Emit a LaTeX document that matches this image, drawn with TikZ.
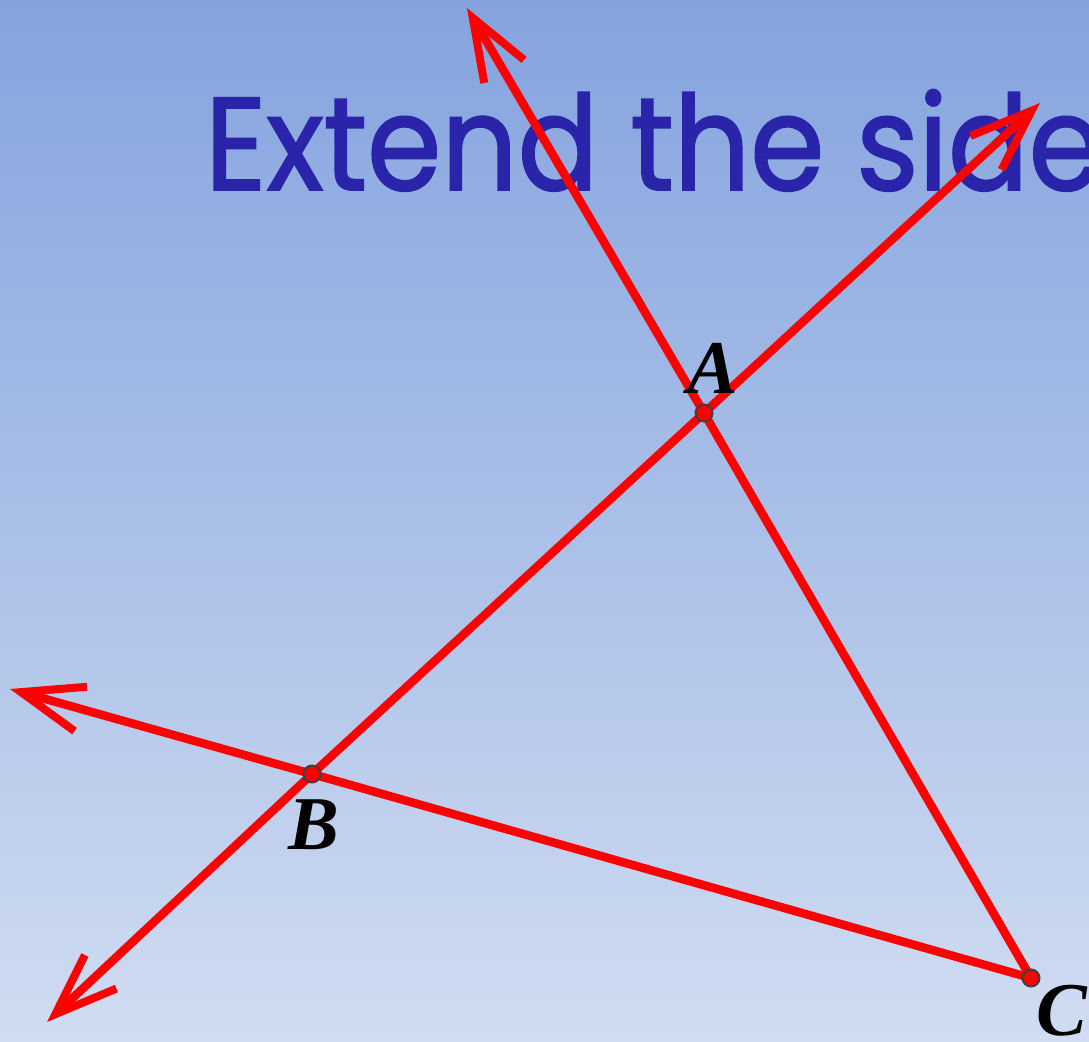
\documentclass[tikz,border=0pt]{standalone}
\usepackage{fontspec}
\usetikzlibrary{arrows.meta}
\newfontfamily\titlefont[FakeBold=1.5]{Poppins}
\newfontfamily\lblfont{Liberation Serif}
\definecolor{bgtop}{RGB}{132,163,222}
\definecolor{bgbot}{RGB}{208,220,241}
\definecolor{titleblue}{RGB}{42,36,170}
\definecolor{linered}{RGB}{255,0,0}
\begin{document}
\begin{tikzpicture}[x=1pt,y=-1pt,
  side/.style={draw=linered, line width=8.5pt, line cap=round},
  ray/.style={side, -{Straight Barb[length=62pt,width=46pt,line width=8pt]}},
  vtx/.style={circle, fill=linered, draw=black!75, line width=2pt, minimum size=17pt, inner sep=0pt},
  lbl/.style={font=\fontsize{76}{76}\lblfont\bfseries\itshape, text=black, inner sep=0pt}]
\useasboundingbox (0,0) rectangle (1089,1041);
\clip (0,0) rectangle (1089,1041);
\shade[top color=bgtop, bottom color=bgbot] (0,0) rectangle (1089,1041);
\node[anchor=base west, inner sep=0pt, text=titleblue, xscale=0.905, font=\fontsize{132}{132}\titlefont] (title) at (205,190) {Extend the sides};
% vertices
\coordinate (A) at (704,413);
\coordinate (B) at (312,774);
\coordinate (C) at (1031,978);
\coordinate (tAB) at (1040,103);
\coordinate (tBA) at (47,1022);
\coordinate (tCA) at (467,8);
\coordinate (tCB) at (10,689);
% sides
\draw[side] (B) -- (A);
\draw[side] (A) -- (C);
\draw[side] (B) -- (C);
% extensions
\draw[ray] (A) -- (tAB);
\draw[ray] (B) -- (tBA);
\draw[ray] (A) -- (tCA);
\draw[ray] (B) -- (tCB);
% points
\node[vtx] (pA) at (A) {};
\node[vtx] (pB) at (B) {};
\node[vtx] (pC) at (C) {};
\node[lbl] (lA) at (713,368) {A};
\node[lbl] (lB) at (314,825) {B};
\node[lbl] (lC) at (1062,1011) {C};
\end{tikzpicture}
\end{document}
